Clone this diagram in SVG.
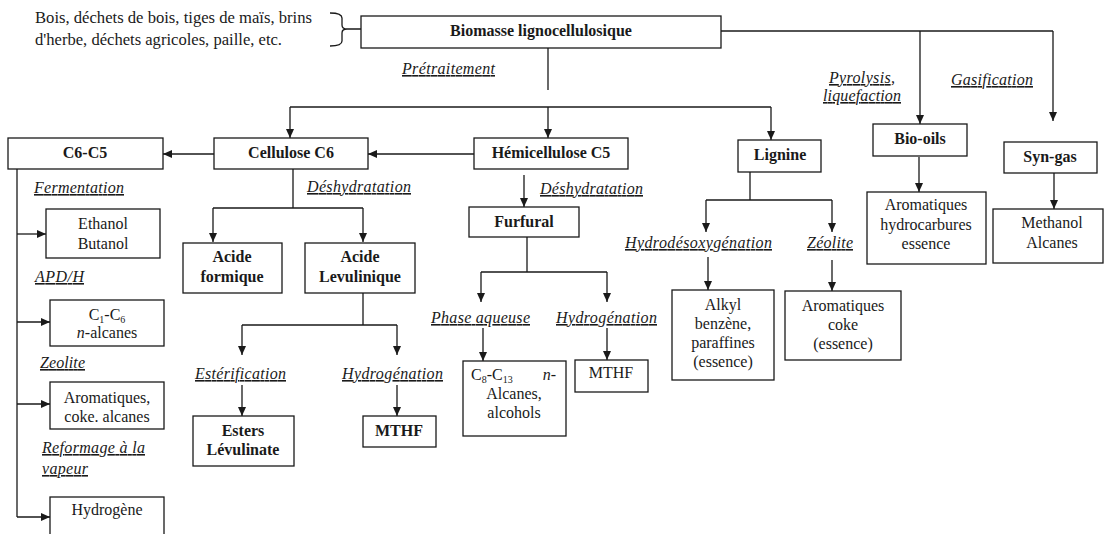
<svg xmlns="http://www.w3.org/2000/svg" width="1110" height="534" viewBox="0 0 1110 534" font-family="'Liberation Serif', 'DejaVu Serif', serif">
<style>
.box{fill:#fff;stroke:#1a1a1a;stroke-width:1.3}
.t{font-family:'Liberation Serif','DejaVu Serif',serif;font-size:16px;fill:#1a1a1a;text-anchor:middle}
.b{font-weight:bold}
.l{font-family:'Liberation Serif','DejaVu Serif',serif;font-size:16px;font-style:italic;text-decoration:underline;fill:#1a1a1a}
.c{fill:none;stroke:#1a1a1a;stroke-width:1.3}
.a{marker-end:url(#ah)}
.s{font-size:10px}
</style>
<defs>
<marker id="ah" markerWidth="9" markerHeight="8" refX="9" refY="4" orient="auto" markerUnits="userSpaceOnUse">
<path d="M0,0 L9,4 L0,8 z" fill="#1a1a1a"/>
</marker>
</defs>
<rect width="1110" height="534" fill="#fff"/>

<g id="connectors">
<path class="c" d="M330,13 Q342,13 342,18 V25 Q342,29 347,29 Q342,29 342,33 V41 Q342,46 330,46 M347,29 H361"/>
<path class="c" d="M548,48 V90"/>
<path class="c" d="M290,107 H771"/>
<path class="c a" d="M290,107 V138"/>
<path class="c a" d="M548,107 V138"/>
<path class="c a" d="M771,107 V140"/>
<path class="c" d="M721,31 H1053"/>
<path class="c a" d="M920,31 V124"/>
<path class="c a" d="M1053,31 V121"/>
<path class="c a" d="M919,157 V192"/>
<path class="c a" d="M1054,173 V209"/>
<path class="c a" d="M474,154 H368"/>
<path class="c a" d="M214,154 H163"/>
<path class="c" d="M17,169 V517"/>
<path class="c a" d="M17,234 H46"/>
<path class="c a" d="M17,322 H50"/>
<path class="c a" d="M17,404 H50"/>
<path class="c a" d="M17,517 H50"/>
<path class="c" d="M293,169 V208 M213,208 H363"/>
<path class="c a" d="M213,208 V242"/>
<path class="c a" d="M363,208 V242"/>
<path class="c" d="M363,293 V325 M242,325 H397"/>
<path class="c a" d="M242,325 V355"/>
<path class="c a" d="M397,325 V355"/>
<path class="c a" d="M242,385 V416"/>
<path class="c a" d="M397,385 V416"/>
<path class="c a" d="M524,175 V207"/>
<path class="c" d="M527,237 V272 M481,272 H607"/>
<path class="c a" d="M481,272 V302"/>
<path class="c a" d="M607,272 V302"/>
<path class="c a" d="M483,328 V361"/>
<path class="c a" d="M607,328 V360"/>
<path class="c" d="M750,172 V200 M706,200 H832"/>
<path class="c a" d="M706,200 V232"/>
<path class="c a" d="M832,200 V232"/>
<path class="c a" d="M708,257 V290"/>
<path class="c a" d="M832,260 V291"/>
</g>

<g id="sources">
<text class="t" style="text-anchor:start" x="35" y="23" textLength="277" lengthAdjust="spacingAndGlyphs">Bois, déchets de bois, tiges de maïs, brins</text>
<text class="t" style="text-anchor:start" x="35" y="45" textLength="247" lengthAdjust="spacingAndGlyphs">d'herbe, déchets agricoles, paille, etc.</text>
</g>

<g id="biomasse"><rect class="box" x="361" y="16" width="360" height="32"/><text class="t b" x="541" y="36">Biomasse lignocellulosique</text></g>
<g id="c6c5"><rect class="box" x="8" y="138" width="155" height="31"/><text class="t b" x="85" y="158">C6-C5</text></g>
<g id="cellulose"><rect class="box" x="214" y="138" width="154" height="31"/><text class="t b" x="291" y="158">Cellulose C6</text></g>
<g id="hemicellulose"><rect class="box" x="474" y="138" width="154" height="31"/><text class="t b" x="551" y="158">Hémicellulose C5</text></g>
<g id="lignine"><rect class="box" x="738" y="140" width="83" height="32"/><text class="t b" x="780" y="160">Lignine</text></g>
<g id="biooils"><rect class="box" x="873" y="124" width="94" height="32"/><text class="t b" x="920" y="144">Bio-oils</text></g>
<g id="syngas"><rect class="box" x="1004" y="142" width="93" height="31"/><text class="t b" x="1050" y="162">Syn-gas</text></g>
<g id="aromhydro"><rect class="box" x="867" y="192" width="119" height="72"/><text class="t" x="926" y="210">Aromatiques</text><text class="t" x="926" y="230">hydrocarbures</text><text class="t" x="926" y="249">essence</text></g>
<g id="methanol"><rect class="box" x="993" y="209" width="110" height="54"/><text class="t" x="1052" y="228">Methanol</text><text class="t" x="1052" y="248">Alcanes</text></g>
<g id="ethanol"><rect class="box" x="46" y="209" width="114" height="49"/><text class="t" x="103" y="229">Ethanol</text><text class="t" x="103" y="249">Butanol</text></g>
<g id="alcanes"><rect class="box" x="50" y="300" width="114" height="46"/><text class="t" x="107" y="320">C<tspan class="s" dy="3">1</tspan><tspan dy="-3">-C</tspan><tspan class="s" dy="3">6</tspan></text><text class="t" x="107" y="338"><tspan font-style="italic">n</tspan>-alcanes</text></g>
<g id="aromcoke"><rect class="box" x="50" y="382" width="114" height="47"/><text class="t" x="107" y="403">Aromatiques,</text><text class="t" x="107" y="422">coke. alcanes</text></g>
<g id="hydrogene"><rect class="box" x="50" y="497" width="114" height="50"/><text class="t" x="107" y="515">Hydrogène</text></g>
<g id="formique"><rect class="box" x="183" y="243" width="99" height="50"/><text class="t b" x="232" y="262">Acide</text><text class="t b" x="232" y="282">formique</text></g>
<g id="levulinique"><rect class="box" x="305" y="243" width="110" height="50"/><text class="t b" x="360" y="262">Acide</text><text class="t b" x="360" y="282">Levulinique</text></g>
<g id="esters"><rect class="box" x="193" y="416" width="101" height="50"/><text class="t b" x="243" y="436">Esters</text><text class="t b" x="243" y="455">Lévulinate</text></g>
<g id="mthf1"><rect class="box" x="363" y="416" width="73" height="31"/><text class="t b" x="399" y="436">MTHF</text></g>
<g id="furfural"><rect class="box" x="469" y="207" width="110" height="30"/><text class="t b" x="524" y="227">Furfural</text></g>
<g id="c8c13"><rect class="box" x="463" y="361" width="103" height="75"/><text class="t" style="text-anchor:start" x="471" y="380">C<tspan class="s" dy="3">8</tspan><tspan dy="-3">-C</tspan><tspan class="s" dy="3">13</tspan></text><text class="t" style="text-anchor:end" x="556" y="380"><tspan font-style="italic">n</tspan>-</text><text class="t" x="514" y="399">Alcanes,</text><text class="t" x="514" y="418">alcohols</text></g>
<g id="mthf2"><rect class="box" x="575" y="360" width="73" height="32"/><text class="t" x="611" y="378">MTHF</text></g>
<g id="alkyl"><rect class="box" x="672" y="290" width="102" height="90"/><text class="t" x="723" y="310">Alkyl</text><text class="t" x="723" y="329">benzène,</text><text class="t" x="723" y="348">paraffines</text><text class="t" x="723" y="367">(essence)</text></g>
<g id="aromcoke2"><rect class="box" x="785" y="291" width="116" height="69"/><text class="t" x="843" y="311">Aromatiques</text><text class="t" x="843" y="330">coke</text><text class="t" x="843" y="349">(essence)</text></g>

<g id="labels">
<text class="l" x="402" y="74" textLength="93">Prétraitement</text>
<text class="l" x="829" y="83" textLength="66">Pyrolysis,</text>
<text class="l" x="823" y="101" textLength="78">liquefaction</text>
<text class="l" x="951" y="85" textLength="82">Gasification</text>
<text class="l" x="34" y="193" textLength="90">Fermentation</text>
<text class="l" x="35" y="282" textLength="49">APD/H</text>
<text class="l" x="40" y="368" textLength="45">Zeolite</text>
<text class="l" x="42" y="453" textLength="103">Reformage à la</text>
<text class="l" x="42" y="474" textLength="46">vapeur</text>
<text class="l" x="307" y="192" textLength="104">Déshydratation</text>
<text class="l" x="540" y="194" textLength="103">Déshydratation</text>
<text class="l" x="195" y="379" textLength="91">Estérification</text>
<text class="l" x="342" y="379" textLength="101">Hydrogénation</text>
<text class="l" x="431" y="323" textLength="99">Phase aqueuse</text>
<text class="l" x="556" y="323" textLength="101">Hydrogénation</text>
<text class="l" x="625" y="248" textLength="147">Hydrodésoxygénation</text>
<text class="l" x="807" y="248" textLength="46">Zéolite</text>
</g>
</svg>
